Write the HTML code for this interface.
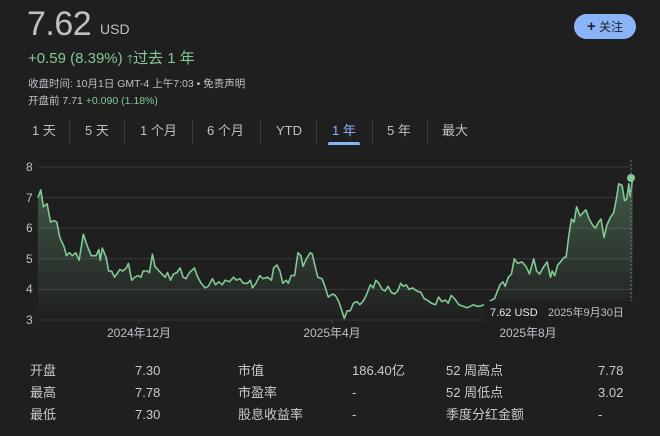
<!DOCTYPE html>
<html><head><meta charset="utf-8"><style>
*{margin:0;padding:0;box-sizing:border-box}
body{width:660px;height:436px;background:#1f1f1f;font-family:"Liberation Sans","Noto Sans CJK SC",sans-serif;color:#bdc1c6;position:relative;overflow:hidden}
.a{position:absolute;white-space:nowrap}
.g{color:#81c995}
.tab{position:absolute;top:122px;font-size:13px;line-height:18px;color:#bdc1c6}
.sep{position:absolute;top:120px;width:1px;height:24px;background:#3c3c3c}
.t{position:absolute;font-size:13px;line-height:16px;color:#c8cbcf;white-space:nowrap}
</style></head><body>
<div class="a" style="left:27px;top:5px;font-size:34px;color:#bdc1c6;letter-spacing:-0.5px">7.62</div>
<div class="a" style="left:100px;top:21px;font-size:14px;color:#bdc1c6">USD</div>
<div class="a" style="left:574px;top:14px;width:62px;height:25px;border-radius:13px;background:#8ab4f8;color:#202124;font-size:12px;line-height:25px;text-align:center"><b style="font-size:15px">+</b>&nbsp;关注</div>
<div class="a g" style="left:28px;top:47px;font-size:15px">+0.59 (8.39%) <span style="font-size:12px">🡑</span>过去 1 年</div>
<div class="a" style="left:28px;top:76px;font-size:10.5px;color:#bdc1c6">收盘时间: 10月1日 GMT-4 上午7:03 • 免责声明</div>
<div class="a" style="left:28px;top:93px;font-size:10.5px;color:#bdc1c6">开盘前 7.71 <span class="g">+0.090 (1.18%)</span></div>
<div class="tab" style="left:32px">1 天</div><div class="sep" style="left:69px"></div>
<div class="tab" style="left:85px">5 天</div><div class="sep" style="left:124px"></div>
<div class="tab" style="left:140px">1 个月</div><div class="sep" style="left:192px"></div>
<div class="tab" style="left:207px">6 个月</div><div class="sep" style="left:260px"></div>
<div class="tab" style="left:276px">YTD</div><div class="sep" style="left:316px"></div>
<div class="tab" style="left:332px;color:#8ab4f8">1 年</div>
<div class="a" style="left:328px;top:142px;width:32px;height:3px;border-radius:2px 2px 0 0;background:#8ab4f8"></div>
<div class="sep" style="left:372px"></div>
<div class="tab" style="left:387px">5 年</div><div class="sep" style="left:427px"></div>
<div class="tab" style="left:442px">最大</div>
<svg class="a" style="left:0;top:0" width="660" height="345" id="s">
<defs><linearGradient id="gr" x1="0" y1="0" x2="0" y2="1"><stop offset="0" stop-color="#81c995" stop-opacity=".35"/><stop offset="1" stop-color="#81c995" stop-opacity="0"/></linearGradient></defs>
<g stroke="#3a3a3a" stroke-width="1">
<line x1="38" x2="632" y1="167" y2="167"/><line x1="38" x2="632" y1="197.6" y2="197.6"/><line x1="38" x2="632" y1="228.2" y2="228.2"/><line x1="38" x2="632" y1="258.8" y2="258.8"/><line x1="38" x2="632" y1="289.4" y2="289.4"/><line x1="38" x2="632" y1="320" y2="320"/>
<line x1="139" x2="139" y1="320" y2="324"/><line x1="332" x2="332" y1="320" y2="324"/><line x1="528" x2="528" y1="320" y2="324"/>
</g>
<g font-size="12" fill="#bdc1c6"><text x="26" y="171">8</text><text x="26" y="202">7</text><text x="26" y="232">6</text><text x="26" y="263">5</text><text x="26" y="293">4</text><text x="26" y="324">3</text>
<text x="139" y="337" text-anchor="middle">2024年12月</text><text x="332" y="337" text-anchor="middle">2025年4月</text><text x="528" y="337" text-anchor="middle">2025年8月</text></g>
<path id="f" fill="url(#gr)"/><path id="l" fill="none" stroke="#81c995" stroke-width="1.6" stroke-linejoin="round"/>
<line x1="631" x2="631" y1="160" y2="320" stroke="#777" stroke-dasharray="2,2"/>
<rect x="484" y="301" width="148" height="22" fill="#1f1f1f"/>
<text x="490" y="316" font-size="11" fill="#e8eaed">7.62 USD</text><text x="548" y="316" font-size="11" fill="#bdc1c6">2025年9月30日</text>
<circle cx="631" cy="178" r="4" fill="#81c995"/>
</svg>
<div class="t" style="left:30px;top:363px">开盘</div><div class="t" style="left:135px;top:363px">7.30</div>
<div class="t" style="left:238px;top:363px">市值</div><div class="t" style="left:352px;top:363px">186.40亿</div>
<div class="t" style="left:446px;top:363px">52 周高点</div><div class="t" style="left:598px;top:363px">7.78</div>
<div class="t" style="left:30px;top:385px">最高</div><div class="t" style="left:135px;top:385px">7.78</div>
<div class="t" style="left:238px;top:385px">市盈率</div><div class="t" style="left:352px;top:385px">-</div>
<div class="t" style="left:446px;top:385px">52 周低点</div><div class="t" style="left:598px;top:385px">3.02</div>
<div class="t" style="left:30px;top:407px">最低</div><div class="t" style="left:135px;top:407px">7.30</div>
<div class="t" style="left:238px;top:407px">股息收益率</div><div class="t" style="left:352px;top:407px">-</div>
<div class="t" style="left:446px;top:407px">季度分红金额</div><div class="t" style="left:598px;top:407px">-</div>
<script>
var d=[90,7.0,97,7.25,103,6.7,112,6.8,120,6.2,128,6.25,135,6.2,142,5.7,152,5.4,158,5.1,165,5.2,172,5.1,180,5.2,188,4.95,198,5.8,208,5.4,217,5.1,228,5.1,235,5.3,238,4.95,243,5.35,252,5.05,258,4.6,265,4.6,272,4.4,280,4.55,285,4.65,292,4.6,300,4.7,305,4.85,313,4.3,320,4.4,328,4.45,335,4.4,340,4.6,350,4.6,355,4.55,362,5.15,368,4.75,378,4.6,385,4.5,392,4.4,398,4.55,405,4.3,412,4.5,420,4.55,428,4.7,435,4.4,442,4.35,450,4.55,462,4.7,470,4.4,478,4.2,487,4.05,495,4.1,505,4.35,512,4.15,520,4.25,528,4.15,535,4.3,545,4.25,555,4.4,562,4.3,570,4.35,578,4.2,588,4.2,595,4.3,600,4.05,608,4.2,617,4.45,625,4.35,635,4.4,645,4.3,650,4.7,658,4.8,665,4.6,672,4.2,680,4.3,685,4.2,692,4.45,700,4.45,708,5.2,715,5.1,720,4.75,728,5.0,737,5.2,742,5.15,748,4.8,755,4.4,765,4.35,772,4.1,780,3.75,790,3.85,797,3.8,805,3.6,812,3.3,818,3.05,825,3.3,832,3.3,840,3.55,848,3.6,855,3.5,862,3.6,870,3.8,880,4.15,887,4.05,893,4.3,900,4.2,908,4.0,915,3.95,922,4.1,930,3.9,937,3.85,945,3.95,952,4.2,958,4.1,965,4.15,972,4.0,980,4.05,990,3.95,1000,3.9,1008,3.7,1015,3.65,1025,3.55,1035,3.5,1042,3.75,1050,3.6,1058,3.65,1065,3.55,1072,3.8,1080,3.7,1090,3.5,1100,3.45,1110,3.4,1118,3.45,1125,3.5,1132,3.45,1140,3.45,1150,3.5,1162,3.6,1175,3.7,1188,4.15,1195,4.25,1200,4.1,1208,4.4,1215,4.5,1222,5.0,1230,4.85,1240,4.9,1250,4.75,1258,4.5,1268,5.0,1275,4.6,1282,4.5,1290,4.7,1300,4.9,1308,4.4,1312,4.6,1318,4.45,1325,4.8,1332,4.9,1340,5.05,1345,5.05,1352,5.8,1358,6.3,1364,6.2,1370,6.7,1378,6.4,1385,6.5,1392,6.6,1400,6.3,1408,6.1,1415,6.0,1422,6.2,1428,6.3,1435,5.7,1442,6.1,1450,6.35,1458,6.5,1465,7.0,1470,7.45,1478,7.4,1484,6.9,1489,6.95,1494,7.45,1497,7.05,1500,7.3,1503,7.62];
var p="",x0,xl;for(var i=0;i<d.length;i+=2){var x=(d[i]/2.376).toFixed(1),y=(167+(8-d[i+1])*30.6).toFixed(1);if(i==0)x0=x;xl=x;p+=(i?"L":"M")+x+","+y;}
document.getElementById("l").setAttribute("d",p);
document.getElementById("f").setAttribute("d",p+"L"+xl+",320L"+x0+",320Z");
</script>
</body></html>
